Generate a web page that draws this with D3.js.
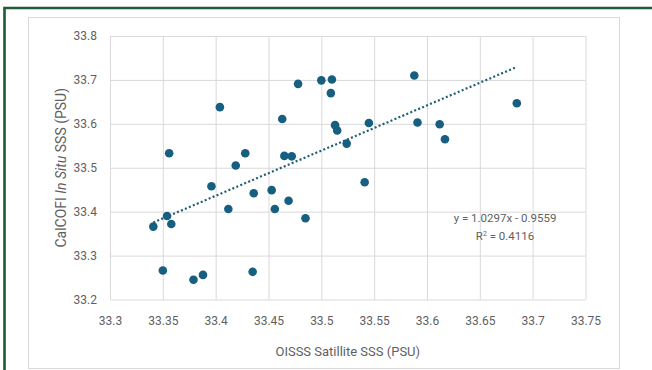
<!DOCTYPE html>
<html>
<head>
<meta charset="utf-8">
<script src="https://cdn.jsdelivr.net/npm/d3@7"></script>
<style>
  body { margin: 0; background: #fff; }
  text { font-family: Roboto, "Liberation Sans", sans-serif; }
</style>
</head>
<body>
<script>
//Data
    const satSSS = [33.404, 33.356, 33.428, 33.419, 33.396, 33.436, 33.412, 33.354, 33.341, 33.358,
                    33.350, 33.379, 33.388, 33.435, 33.478, 33.500, 33.510, 33.509, 33.463, 33.513,
                    33.515, 33.545, 33.524, 33.465, 33.472, 33.588, 33.591, 33.612, 33.617, 33.453,
                    33.469, 33.456, 33.485, 33.541, 33.685];
    const insituSSS = [33.638, 33.533, 33.533, 33.505, 33.458, 33.442, 33.406, 33.390, 33.366, 33.372,
                       33.266, 33.245, 33.256, 33.263, 33.691, 33.699, 33.701, 33.670, 33.611, 33.597,
                       33.585, 33.602, 33.555, 33.527, 33.526, 33.710, 33.603, 33.599, 33.565, 33.449,
                       33.425, 33.406, 33.385, 33.467, 33.647];
    const xTicks = [33.3, 33.35, 33.4, 33.45, 33.5, 33.55, 33.6, 33.65, 33.7, 33.75];
    const yTicks = [33.2, 33.3, 33.4, 33.5, 33.6, 33.7, 33.8];
    const slope = 1.0297;
    const intercept = -0.9559;
    const rSquared = "0.4116";

    const data = satSSS.map((d, i) => ({x: d, y: insituSSS[i]}));

//Sizes
    const width = 652;
    const height = 370;
    const plot = {left: 110, right: 585.5, top: 36, bottom: 299.5};
    const dotColor = "#175f80";
    const gridColor = "#d9d9d9";
    const textColor = "#5f5f5f";

//Scales
    const xScale = d3.scaleLinear()
                     .domain([33.3, 33.75])
                     .range([plot.left, plot.right]);

    const yScale = d3.scaleLinear()
                     .domain([33.2, 33.8])
                     .range([plot.bottom, plot.top]);

//SVG
    const svg = d3.select("body")
                  .append("svg")
                  .attr("width", width)
                  .attr("height", height);

    // chart box and green frame
    svg.append("rect")
       .attr("x", 28.5).attr("y", 17.5)
       .attr("width", 591).attr("height", 351)
       .attr("fill", "#fff")
       .attr("stroke", gridColor);

    svg.append("path")
       .attr("d", "M4.5,372 V8 H656")
       .attr("fill", "none")
       .attr("stroke", "#1f5a36")
       .attr("stroke-width", 2.6);

//Grid - drawn with the axes, labels styled after
    const leftAxis = d3.axisLeft(yScale)
                       .tickValues(yTicks)
                       .tickSize(-(plot.right - plot.left))
                       .tickPadding(13)
                       .tickFormat(d => d3.format("")(+d.toFixed(2)));

    const bottomAxis = d3.axisBottom(xScale)
                         .tickValues(xTicks)
                         .tickSize(-(plot.bottom - plot.top))
                         .tickPadding(17)
                         .tickFormat(d => d3.format("")(+d.toFixed(2)));

    const gx = svg.append("g")
                  .attr("transform", "translate(0," + plot.bottom + ")")
                  .call(bottomAxis);

    const gy = svg.append("g")
                  .attr("transform", "translate(" + plot.left + ",0)")
                  .call(leftAxis);

    [gx, gy].forEach(g => {
        g.select(".domain").remove();
        g.selectAll(".tick line").attr("stroke", gridColor).attr("stroke-width", 1);
        g.selectAll(".tick text")
         .attr("fill", textColor)
         .style("font-size", "12px");
    });

//Trendline - dotted, from min x to max x
    const xExt = d3.extent(satSSS);
    const trend = xExt.map(x => ({x: x, y: slope * x + intercept}));

    svg.append("path")
       .datum(trend)
       .attr("d", d3.line().x(d => xScale(d.x)).y(d => yScale(d.y)))
       .attr("fill", "none")
       .attr("stroke", "#1f5d77")
       .attr("stroke-width", 2.2)
       .attr("stroke-dasharray", "2 2.3");

//Points
    svg.selectAll("circle")
       .data(data)
       .enter()
       .append("circle")
       .attr("cx", d => xScale(d.x))
       .attr("cy", d => yScale(d.y))
       .attr("r", 4.3)
       .attr("fill", dotColor);

//Equation label
    svg.append("text")
       .attr("x", 505)
       .attr("y", 222)
       .attr("text-anchor", "middle")
       .attr("fill", textColor)
       .style("font-size", "11.5px")
       .text("y = " + slope + "x - " + Math.abs(intercept));

    const r2 = svg.append("text")
                  .attr("x", 505)
                  .attr("y", 239.5)
                  .attr("text-anchor", "middle")
                  .attr("fill", textColor)
                  .style("font-size", "11.5px");
    r2.append("tspan").text("R");
    r2.append("tspan").attr("dy", -4).style("font-size", "7px").text("2");
    r2.append("tspan").attr("dy", 4).text(" = " + rSquared);

//Axis titles
    svg.append("text")
       .attr("x", (plot.left + plot.right) / 2)
       .attr("y", 356)
       .attr("text-anchor", "middle")
       .attr("fill", textColor)
       .style("font-size", "13px")
       .text("OISSS Satillite SSS (PSU)");

    const yTitle = svg.append("text")
                      .attr("transform", "translate(66," + ((plot.top + plot.bottom) / 2) + ") rotate(-90)")
                      .attr("text-anchor", "middle")
                      .attr("fill", textColor)
                      .style("font-size", "14px");
    yTitle.append("tspan").text("CalCOFI ");
    yTitle.append("tspan").style("font-style", "italic").text("In Situ");
    yTitle.append("tspan").text(" SSS (PSU)");
</script>
</body>
</html>
